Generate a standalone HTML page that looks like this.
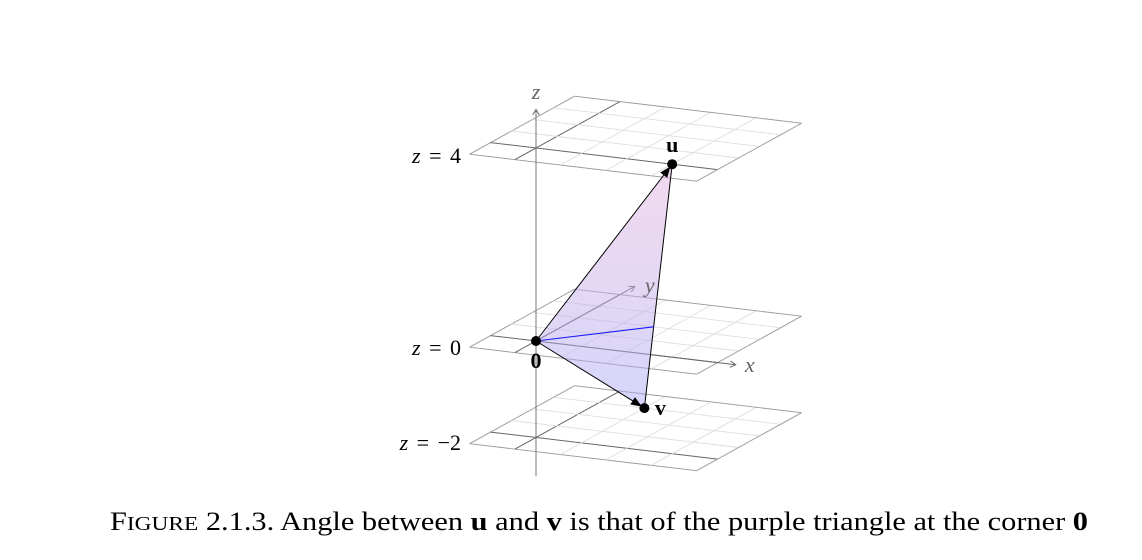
<!DOCTYPE html>
<html><head><meta charset="utf-8"><style>
body{margin:0;background:#fff;width:1142px;height:560px;overflow:hidden}
svg{display:block}
</style></head><body>
<svg id="fig" width="1142" height="560" xmlns="http://www.w3.org/2000/svg" font-family="Liberation Serif, serif">
<defs>
<linearGradient id="tri" x1="0" y1="0" x2="0" y2="1">
<stop offset="0" stop-color="#e4b4de"/><stop offset="1" stop-color="#acacf6"/>
</linearGradient>
<marker id="ah" viewBox="0 0 10 10" refX="9" refY="5" markerWidth="11" markerHeight="11" markerUnits="userSpaceOnUse" orient="auto"><path d="M0,1 L10,5 L0,9 Z" fill="#000"/></marker>
<marker id="ax" viewBox="0 0 10 10" refX="9" refY="5" markerWidth="8" markerHeight="8" orient="auto"><path d="M2,1 L9,5 L2,9" fill="none" stroke="#666" stroke-width="1.2"/></marker>
</defs>
<g id="planes"></g><g id="axes"></g><g id="vecs"></g>
<text x="461" y="163" text-anchor="end" font-size="22"><tspan font-style="italic">z</tspan> <tspan dx="3">=</tspan> <tspan dx="3">4</tspan></text>
<text x="461" y="355" text-anchor="end" font-size="22"><tspan font-style="italic">z</tspan> <tspan dx="3">=</tspan> <tspan dx="3">0</tspan></text>
<text x="461" y="450" text-anchor="end" font-size="22"><tspan font-style="italic">z</tspan> <tspan dx="3">=</tspan> <tspan dx="3">−2</tspan></text>
<text x="110" y="530" font-size="26" textLength="978" lengthAdjust="spacingAndGlyphs">F<tspan font-size="20">IGURE</tspan> 2.1.3.  Angle between <tspan font-weight="bold">u</tspan> and <tspan font-weight="bold">v</tspan> is that of the purple triangle at the corner <tspan font-weight="bold">0</tspan></text>
</svg>
<script>
const planeZ=[4,0,-2];
const gridRange=[-1,4];
const uVec=[3,0,4];
const vVec=[1,3,-2];
const NS='http://www.w3.org/2000/svg';
const O=[536,341], ex=[45.4,5.4], ey=[21,-11.6], ez=[0,-48.25];
function P(x,y,z){return [O[0]+ex[0]*x+ey[0]*y+ez[0]*z, O[1]+ex[1]*x+ey[1]*y+ez[1]*z];}
function el(tag,attrs,parent){const e=document.createElementNS(NS,tag);for(const k in attrs)e.setAttribute(k,attrs[k]);parent.appendChild(e);return e;}
function line(a,b,st,w,parent,name){const l=el('line',{x1:a[0],y1:a[1],x2:b[0],y2:b[1],stroke:st,'stroke-width':w},parent);


return l;}
function shorten(a,b,d){const dx=b[0]-a[0],dy=b[1]-a[1],L=Math.hypot(dx,dy);return [b[0]-dx/L*d,b[1]-dy/L*d];}
const gp=document.getElementById('planes');
const [g0,g1]=gridRange;
planeZ.forEach(z=>{
  const g=el('g',{},gp);
  
  
  for(let i=g0;i<=g1;i++){
    const edge=(i===g0||i===g1), zero=i===0;
    const c=zero?'#666':edge?'#9a9a9a':'#dedede';
    line(P(i,g0,z),P(i,g1,z),c,zero?1:0.9,g,'grid-line');
    line(P(g0,i,z),P(g1,i,z),c,zero?1:0.9,g,'grid-line');
  }
});
const ga=document.getElementById('axes');
const za=line(P(0,0,-2.8),P(0,0,4.8),'#777',1,ga,'z-axis');za.setAttribute('marker-end','url(#ax)');
const xa=line(P(0,0,0),P(4.4,0,0),'#666',1,ga,'x-axis');xa.setAttribute('marker-end','url(#ax)');
const ya=line(P(0,0,0),P(0,4.7,0),'#666',1,ga,'y-axis');ya.setAttribute('marker-end','url(#ax)');
function lab(t,p,dx,dy,name,extra){const e=el('text',Object.assign({x:p[0]+dx,y:p[1]+dy,'font-size':22,'text-anchor':'middle'},extra||{}),document.getElementById('fig'));e.textContent=t;

return e;}
lab('z',P(0,0,5.1),0,4,'z-axis-label',{'font-style':'italic',fill:'#666'});
lab('x',P(4.4,0,0),14,7,'x-axis-label',{'font-style':'italic',fill:'#666'});
lab('y',P(0,4.7,0),15,6,'y-axis-label',{'font-style':'italic',fill:'#666'});
const gv=document.getElementById('vecs');
const pO=P(0,0,0), pU=P(...uVec), pV=P(...vVec);
const tri=el('polygon',{points:[pO,pU,pV].map(p=>p.join(',')).join(' '),fill:'url(#tri)','fill-opacity':0.5,stroke:'none'},gv);


line(pU,pV,'#000',1,gv,'u-v-segment');
const t=uVec[2]/(uVec[2]-vVec[2]);
const pm=P(uVec[0]+(vVec[0]-uVec[0])*t,uVec[1]+(vVec[1]-uVec[1])*t,0);
line(pO,pm,'#1a1aff',1.1,gv,'plane-intersection-line');
const lu=line(pO,shorten(pO,pU,4),'#000',1,gv,'vector-u');lu.setAttribute('marker-end','url(#ah)');
const lv=line(pO,shorten(pO,pV,4),'#000',1,gv,'vector-v');lv.setAttribute('marker-end','url(#ah)');
[[pO,'origin-point'],[pU,'u-point'],[pV,'v-point']].forEach(([p,n])=>{const c=el('circle',{cx:p[0],cy:p[1],r:5,fill:'#000'},gv);

});
lab('u',pU,0,-12,'u-label',{'font-weight':'bold'});
lab('v',pV,16,7,'v-label',{'font-weight':'bold'});
lab('0',pO,0,27,'origin-label',{'font-weight':'bold'});
</script>
</body></html>
